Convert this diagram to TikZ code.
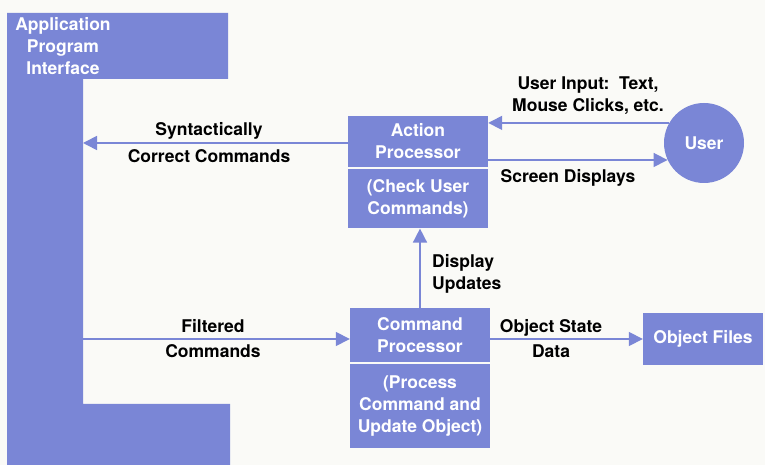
\documentclass[tikz,border=0pt]{standalone}
\usepackage{fontspec}
\setsansfont{TeX Gyre Heros}
\definecolor{apiblue}{HTML}{7A86D6}
\definecolor{paper}{HTML}{FAFAF7}
\usetikzlibrary{arrows.meta,positioning}

\begin{document}
\begin{tikzpicture}[
    x=1pt, y=1pt,
    font=\sffamily\bfseries\fontsize{17.5}{22}\selectfont,
    proc/.style={rectangle, fill=apiblue, text=white, minimum width=140pt,
                 align=center, inner sep=0pt},
    lbl/.style={align=center, text=black, inner sep=0pt},
    flow/.style={-{Triangle[length=14pt,width=14pt]}, line width=1.6pt, apiblue}
]
    \fill[paper] (0,0) rectangle (765,465);
    \useasboundingbox (0,0) rectangle (765,465);

    \fill[apiblue] (7,452) -- (228,452) -- (228,386) -- (83,386) -- (83,61)
        -- (230,61) -- (230,0) -- (7,0) -- cycle;
    \node[lbl, text=white] (apiname) at (63,419) {Application\\Program\\Interface};
    \coordinate (apisyn) at (83,322);
    \coordinate (apifilter) at (83,126);

    \node[proc, minimum height=51pt] (action) at (418,323.5) {Action\\Processor};
    \node[proc, minimum height=59pt, below=2pt of action] (check) {(Check User\\Commands)};
    \node[proc, minimum height=54pt] (command) at (420,130) {Command\\Processor};
    \node[proc, minimum height=84pt, below=2pt of command] (update) {(Process\\Command and\\Update Object)};
    \node[circle, fill=apiblue, text=white, minimum size=80pt, inner sep=0pt] (user) at (704,322) {User};
    \node[proc, minimum width=120pt, minimum height=52pt] (files) at (703,126) {Object Files};

    \draw[flow] (action.west |- apisyn) -- (apisyn);
    \draw[flow] (user.150) -- (action.east |- user.150);
    \draw[flow] (action.east |- user.205) -- (user.205);
    \draw[flow] (command.north) -- (command.north |- check.south);
    \draw[flow] (apifilter) -- (apifilter -| command.west);
    \draw[flow] (command.east |- files.west) -- (files.west);

    \node[lbl] (synlbl) at (209,322) {Syntactically\\[5pt]Correct Commands};
    \node[lbl] (inputlbl) at (588,369) {User Input:~~Text,\\Mouse Clicks, etc.};
    \node[lbl] (screenlbl) at (568,287) {Screen Displays};
    \node[lbl, align=left, anchor=west] (updlbl) at (432,191) {Display\\Updates};
    \node[lbl] (filterlbl) at (213,126) {Filtered\\[3pt]Commands};
    \node[lbl] (statelbl) at (551,126) {Object State\\[3pt]Data};
\end{tikzpicture}
\end{document}
